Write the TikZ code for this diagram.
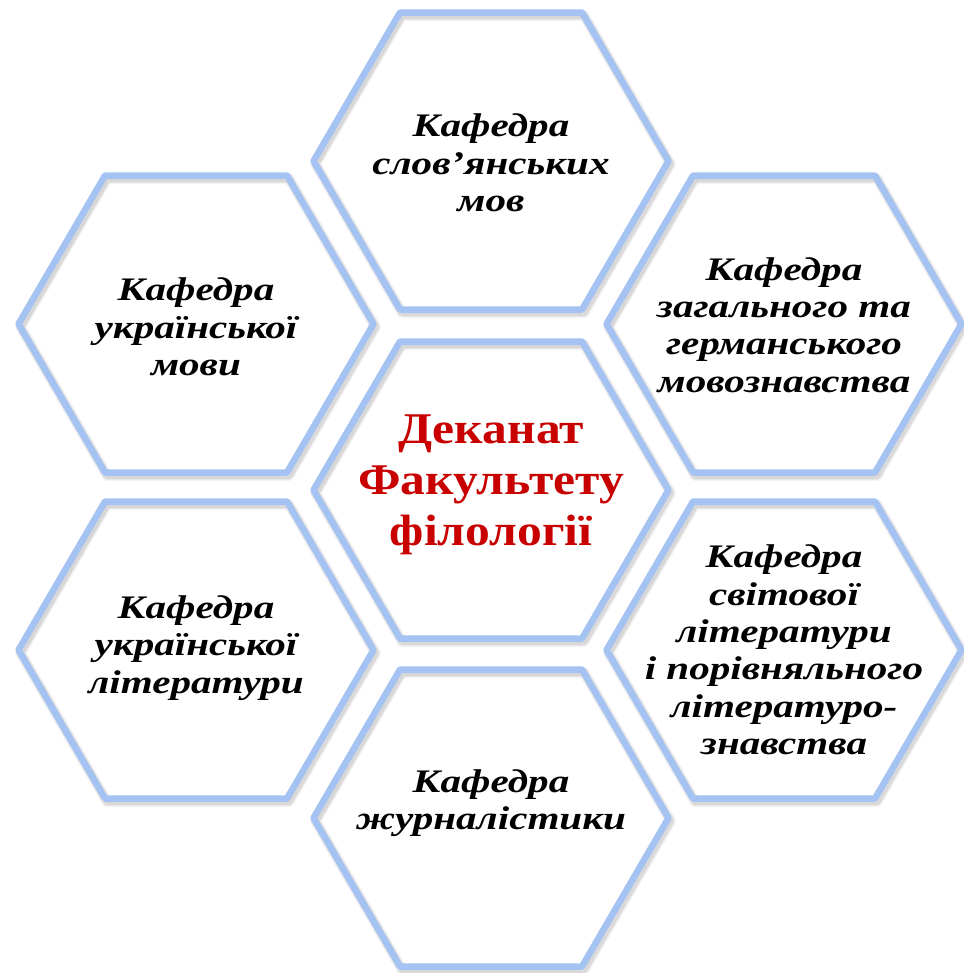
\documentclass[tikz,border=0pt]{standalone}
\usepackage{fontspec}
\setmainfont{Liberation Serif}
\newfontfamily\deptfont{Liberation Serif}[FakeStretch=1.25]
\newfontfamily\deanfont{Liberation Serif}[FakeStretch=1.13]
\definecolor{hexblue}{RGB}{164,194,242}
\definecolor{deanred}{RGB}{200,0,0}
\newcommand{\hexshape}{(-177.5,0) -- (-91,-148.5) -- (91,-148.5) -- (177.5,0) -- (91,148.5) -- (-91,148.5) -- cycle}
\begin{document}
\begin{tikzpicture}[x=1bp,y=-1bp, line join=round,
  dept/.style={font=\deptfont\fontsize{33}{37.5}\selectfont\bfseries\itshape, align=center, text=black, inner sep=0pt},
  dean/.style={font=\deanfont\fontsize{44}{51}\selectfont\bfseries, align=center, text=deanred, inner sep=0pt}]
\useasboundingbox (0,0) rectangle (964,973);
\coordinate (cTop) at (491,161);
\coordinate (cMid) at (491,490);
\coordinate (cBot) at (491,818);
\coordinate (cLT) at (196,324);
\coordinate (cLB) at (196,650);
\coordinate (cRT) at (784,324);
\coordinate (cRB) at (784,650);
% fills
\foreach \c in {cTop,cMid,cBot,cLT,cLB,cRT,cRB}{
  \fill[white, shift={(\c)}] \hexshape;
}
% shadows
\foreach \c in {cTop,cMid,cBot,cLT,cLB,cRT,cRB}{
  \foreach \w/\o in {11/0.04, 9/0.05, 7/0.07}{
    \draw[black, opacity=\o, line width=\w bp, shift={(\c)}, shift={(2,3)}] \hexshape;
  }
}
% outlines
\foreach \c in {cTop,cMid,cBot,cLT,cLB,cRT,cRB}{
  \draw[hexblue, line width=6.5bp, shift={(\c)}] \hexshape;
}
\node[dept] (tSl) at (491,163) {Кафедра\\слов’янських\\мов};
\node[dept] (tUm) at (196,327) {Кафедра\\української\\мови};
\node[dept] (tGe) at (784,325) {Кафедра\\загального та\\германського\\мовознавства};
\node[dept] (tUl) at (196,648) {Кафедра\\української\\літератури};
\node[dept] (tSv) at (784,650) {Кафедра\\світової\\літератури\\і порівняльного\\літературо-\\знавства};
\node[dept] (tJo) at (491,803) {Кафедра\\журналістики};
\node[dean] (tDe) at (491,485) {Деканат\\Факультету\\філології};
\end{tikzpicture}
\end{document}
